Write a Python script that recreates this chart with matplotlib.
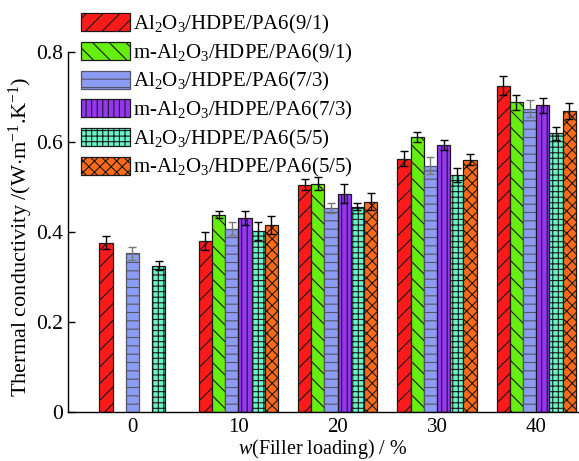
import numpy as np
import matplotlib
matplotlib.use('Agg')
import matplotlib.pyplot as plt

plt.rcParams['font.family'] = ['Liberation Serif', 'DejaVu Serif']
plt.rcParams['mathtext.fontset'] = 'custom'
plt.rcParams['mathtext.rm'] = 'Liberation Serif'
plt.rcParams['mathtext.it'] = 'Liberation Serif:italic'
plt.rcParams['hatch.linewidth'] = 0.8

#filler loading groups (wt %)
loading = ['0', '10', '20', '30', '40']

labels = [r'Al$_2$O$_3$/HDPE/PA6(9/1)', r'm-Al$_2$O$_3$/HDPE/PA6(9/1)',
          r'Al$_2$O$_3$/HDPE/PA6(7/3)', r'm-Al$_2$O$_3$/HDPE/PA6(7/3)',
          r'Al$_2$O$_3$/HDPE/PA6(5/5)', r'm-Al$_2$O$_3$/HDPE/PA6(5/5)']

#thermal conductivity values, nan where no sample at 0 %
k91 = [0.376, 0.380, 0.505, 0.563, 0.725]
mk91 = [np.nan, 0.438, 0.507, 0.611, 0.688]
k73 = [0.352, 0.407, 0.453, 0.547, 0.674]
mk73 = [np.nan, 0.431, 0.485, 0.594, 0.681]
k55 = [0.324, 0.402, 0.456, 0.526, 0.619]
mk55 = [np.nan, 0.415, 0.467, 0.560, 0.669]

#error values
e91 = [0.014, 0.020, 0.012, 0.016, 0.021]
em91 = [np.nan, 0.008, 0.015, 0.012, 0.016]
e73 = [0.015, 0.015, 0.012, 0.019, 0.019]
em73 = [np.nan, 0.015, 0.022, 0.011, 0.016]
e55 = [0.010, 0.020, 0.008, 0.016, 0.014]
em55 = [np.nan, 0.020, 0.019, 0.012, 0.018]

values = [k91, mk91, k73, mk73, k55, mk55]
errors = [e91, em91, e73, em73, e55, em55]

colors = ['#ff1a1a', '#66ee11', '#8c9cf2', '#9636f2', '#66f5c6', '#ff6a1a']
hatches = ['//', '\\\\', '--', '|||', '+++', 'xxx']
edges = ['#1a1a1a', '#1a1a1a', '#555566', '#1a1a1a', '#1a1a1a', '#1a1a1a']
ecols = ['black', 'black', '#777777', 'black', 'black', 'black']

fig = plt.figure(figsize=(5.79, 4.61), dpi=100)
ax = fig.add_axes([68/579, 49.5/461, 510/579, 359.5/461])

w = 0.133
nser = len(values)
centers = np.arange(len(loading))
for i in range(nser):
    v = np.array(values[i], dtype=float)
    e = np.array(errors[i], dtype=float)
    x = centers + (i - (nser-1)/2)*w
    ok = ~np.isnan(v)
    ax.bar(x[ok], v[ok], width=w, color=colors[i], hatch=hatches[i],
           edgecolor=edges[i], linewidth=0.9, label=labels[i], zorder=2)
    ax.errorbar(x[ok], v[ok], yerr=e[ok], fmt='none', ecolor=ecols[i],
                elinewidth=1.0, capsize=3, capthick=1.0, zorder=3)

#tick under the middle of the bars actually drawn in each group
tickpos = []
for g in range(len(loading)):
    offs = [(i - (nser-1)/2)*w for i in range(nser) if not np.isnan(values[i][g])]
    tickpos.append(centers[g] + np.mean(offs))

ax.set_xticks(tickpos)
ax.set_xticklabels(loading)
ax.set_xlim(-0.715, 4.42)
ax.set_ylim(0, 0.8)
ax.set_yticks([0, 0.2, 0.4, 0.6, 0.8])
ax.set_yticklabels(['0', '0.2', '0.4', '0.6', '0.8'])
ax.tick_params(axis='x', length=0, pad=5, labelsize=15)
ax.tick_params(axis='y', direction='in', length=5, width=1, pad=3.5, labelsize=15.5)
for s in ['top', 'right']:
    ax.spines[s].set_visible(False)
for s in ['left', 'bottom']:
    ax.spines[s].set_linewidth(1.0)

ax.set_xlabel(r'$w$(Filler loading) / %', fontsize=14.5, labelpad=-0.5)
ax.set_ylabel(r'Thermal conductivity /(W$\cdot$m$^{-1}$.K$^{-1}$)', fontsize=16)
ax.yaxis.set_label_coords(-0.064, 0.487)

ax.legend(loc='upper left', bbox_to_anchor=(81/579, 1-13/461), bbox_transform=fig.transFigure,
          frameon=False, fontsize=15, handlelength=2.36, handleheight=0.96,
          handletextpad=0.15, labelspacing=0.27, borderpad=0, borderaxespad=0)

fig.savefig('out.png', dpi=100)
